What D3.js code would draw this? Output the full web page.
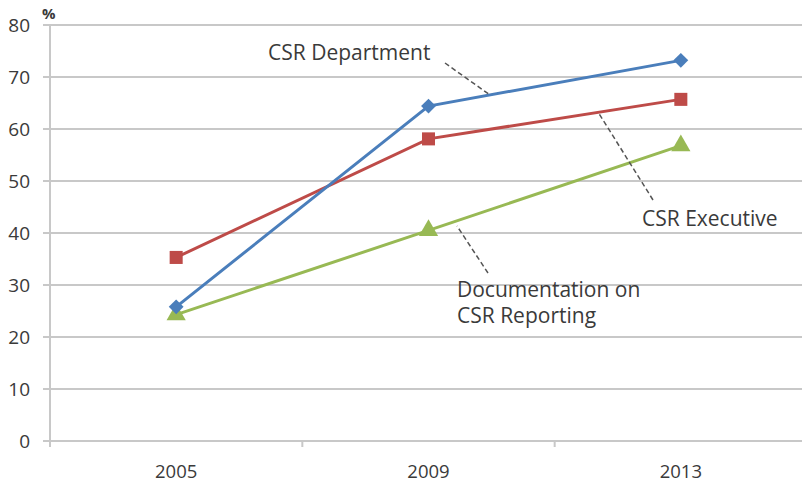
<!DOCTYPE html>
<html>
<head>
<meta charset="utf-8">
<script src="https://cdn.jsdelivr.net/npm/d3@7"></script>
<style>
  body { margin: 0; background: #fff; }
  text { font-family: "Open Sans", "Liberation Sans", sans-serif; fill: #3a3a3a; }
</style>
</head>
<body>
<div id="chart"></div>
<script>
// Data
var years = ["2005", "2009", "2013"];
var csrDepartment = [25.8, 64.4, 73.2];
var csrExecutive = [35.3, 58.1, 65.7];
var documentation = [24.3, 40.5, 56.8];
var yTicks = [0, 10, 20, 30, 40, 50, 60, 70, 80];

var width = 802, height = 483;
var plotLeft = 50, plotRight = 807, plotTop = 25, plotBottom = 441;

var svg = d3.select("#chart").append("svg")
  .attr("width", width)
  .attr("height", height);

var x = d3.scaleBand().domain(years).range([plotLeft, plotRight]);
var y = d3.scaleLinear().domain([0, 80]).range([plotBottom, plotTop]);

// Gridlines
svg.append("g")
  .selectAll("line")
  .data(yTicks)
  .enter().append("line")
    .attr("x1", plotLeft - 7)
    .attr("x2", width)
    .attr("y1", function(d) { return y(d); })
    .attr("y2", function(d) { return y(d); })
    .attr("stroke", "#c8c8c8")
    .attr("stroke-width", 2);

// Y axis line
svg.append("line")
  .attr("x1", plotLeft).attr("x2", plotLeft)
  .attr("y1", y(80)).attr("y2", plotBottom + 6)
  .attr("stroke", "#c8c8c8")
  .attr("stroke-width", 2);

// Category tick marks between bands
svg.append("g")
  .selectAll("line")
  .data(years.slice(1))
  .enter().append("line")
    .attr("x1", function(d) { return x(d); })
    .attr("x2", function(d) { return x(d); })
    .attr("y1", plotBottom)
    .attr("y2", plotBottom + 6)
    .attr("stroke", "#c8c8c8")
    .attr("stroke-width", 2);

// Y tick labels
svg.append("g")
  .selectAll("text")
  .data(yTicks)
  .enter().append("text")
    .attr("x", 30)
    .attr("y", function(d) { return y(d); })
    .attr("dy", "0.36em")
    .attr("text-anchor", "end")
    .attr("font-size", 19)
    .text(function(d) { return d; });

svg.append("text")
  .attr("x", 42).attr("y", 19)
  .attr("font-size", 15)
  .attr("font-weight", "bold")
  .text("%");

// X labels
svg.append("g")
  .selectAll("text")
  .data(years)
  .enter().append("text")
    .attr("x", function(d) { return x(d) + x.bandwidth() / 2; })
    .attr("y", 478)
    .attr("text-anchor", "middle")
    .attr("font-size", 18.5)
    .text(function(d) { return d; });

// Series (diamond = square turned 45 degrees)
var series = [
  { name: "CSR Executive", values: csrExecutive, color: "#be4b48", shape: d3.symbolSquare, size: 170, rot: 0 },
  { name: "Documentation", values: documentation, color: "#98b954", shape: d3.symbolTriangle, size: 160, rot: 0 },
  { name: "CSR Department", values: csrDepartment, color: "#4a7ebb", shape: d3.symbolSquare, size: 110, rot: 45 }
];

var line = d3.line()
  .x(function(d, i) { return x(years[i]) + x.bandwidth() / 2; })
  .y(function(d) { return y(d); });

series.forEach(function(s) {
  svg.append("path")
    .datum(s.values)
    .attr("d", line)
    .attr("fill", "none")
    .attr("stroke", s.color)
    .attr("stroke-width", 3);
});

series.forEach(function(s) {
  svg.append("g")
    .selectAll("path")
    .data(s.values)
    .enter().append("path")
      .attr("d", d3.symbol().type(s.shape).size(s.size))
      .attr("transform", function(d, i) {
        return "translate(" + (x(years[i]) + x.bandwidth() / 2) + "," + y(d) + ") rotate(" + s.rot + ")";
      })
      .attr("fill", s.color);
});

// Callout labels with dashed leader lines
var callouts = [
  { lines: ["CSR Department"], tx: 268, ty: 60, x1: 445, y1: 63, x2: 490, y2: 95 },
  { lines: ["CSR Executive"], tx: 642, ty: 226, x1: 653, y1: 200, x2: 598, y2: 112 },
  { lines: ["Documentation on", "CSR Reporting"], tx: 457, ty: 297, x1: 488, y1: 273, x2: 457, y2: 226 }
];

callouts.forEach(function(c) {
  svg.append("line")
    .attr("x1", c.x1).attr("y1", c.y1)
    .attr("x2", c.x2).attr("y2", c.y2)
    .attr("stroke", "#555")
    .attr("stroke-width", 1.5)
    .attr("stroke-dasharray", "5,3");
  var t = svg.append("text")
    .attr("x", c.tx).attr("y", c.ty)
    .attr("font-size", 21);
  c.lines.forEach(function(l, i) {
    t.append("tspan")
      .attr("x", c.tx)
      .attr("dy", i === 0 ? 0 : 26)
      .text(l);
  });
});
</script>
</body>
</html>
